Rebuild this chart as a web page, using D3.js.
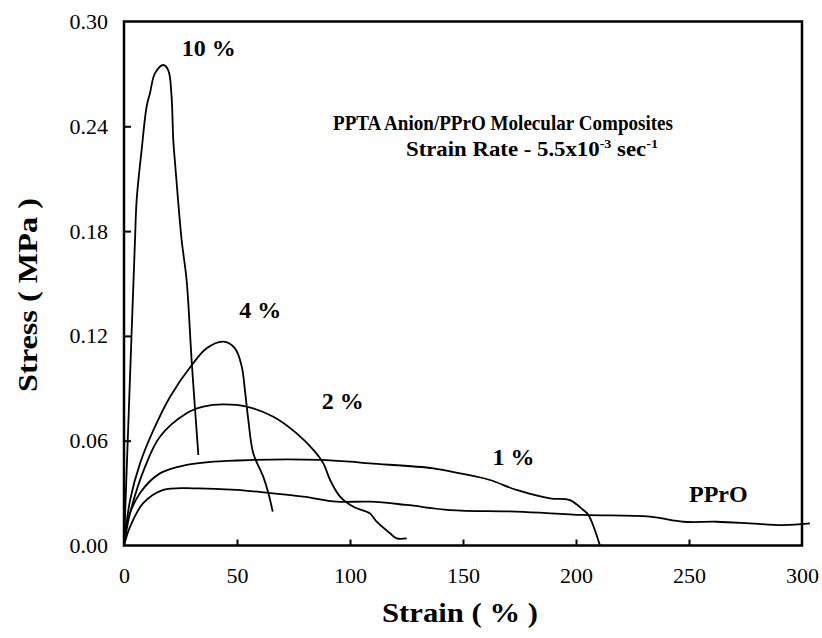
<!DOCTYPE html>
<html><head><meta charset="utf-8">
<script src="https://cdn.jsdelivr.net/npm/d3@7"></script>
<style>body{margin:0;background:#fff}svg{display:block}text{font-family:"Liberation Serif","Times New Roman",serif;fill:#000}</style>
</head><body>
<script>
const xTicks = [0, 50, 100, 150, 200, 250, 300];
const yTicks = [0.00, 0.06, 0.12, 0.18, 0.24, 0.30];

const s10x = [0, 2.4, 4.87, 5.6, 7.8, 10.0, 11.5, 13.7, 17.4, 19.6, 21.0, 21.8, 22.6, 25.5, 27.7, 30.0, 32.9];
const s10y = [0, 0.087, 0.1749, 0.1978, 0.2264, 0.2512, 0.259, 0.2703, 0.2751, 0.272, 0.258, 0.2322, 0.2188, 0.1749, 0.152, 0.1045, 0.0518];

const s4x = [0, 2.7, 7.1, 13, 20.4, 30.0, 36.6, 43.9, 49.1, 52.1, 53.5, 55, 57.2, 61.6, 63.9, 65.8];
const s4y = [0, 0.026, 0.047, 0.066, 0.0852, 0.1033, 0.1129, 0.1167, 0.1129, 0.1024, 0.089, 0.0719, 0.0528, 0.0394, 0.0299, 0.0194];

const s2x = [0, 2.7, 9.3, 15.9, 27.7, 35.1, 43.9, 54.3, 66.1, 76.4, 83.8, 88.2, 91.2, 95.6, 101.5, 108.8, 111.8, 117.7, 120.6, 125.1];
const s2y = [0, 0.0186, 0.045, 0.0623, 0.0757, 0.0795, 0.0808, 0.0795, 0.0737, 0.0642, 0.0547, 0.047, 0.0375, 0.028, 0.0222, 0.0184, 0.0136, 0.007, 0.0041, 0.0041];

const s1x = [0, 1.2, 7.1, 15.9, 27.7, 39.5, 57.2, 72, 86.7, 100, 108.8, 136.9, 148.7, 161.9, 173.7, 188.5, 197.3, 203.2, 205.5, 210.6];
const s1y = [0, 0.0129, 0.030, 0.0413, 0.0461, 0.048, 0.049, 0.0493, 0.049, 0.048, 0.047, 0.0442, 0.0413, 0.0375, 0.0318, 0.027, 0.026, 0.0203, 0.0175, 0];

const sPx = [0, 2.7, 8.5, 17.4, 32.2, 49.9, 64.6, 79.3, 94.1, 108.8, 125.1, 144.2, 173.7, 203.2, 232.7, 247.5, 262.2, 277, 291.7, 303.5];
const sPy = [0, 0.0108, 0.0242, 0.0318, 0.0327, 0.0318, 0.030, 0.028, 0.0251, 0.0251, 0.0232, 0.0203, 0.0194, 0.0175, 0.0165, 0.0136, 0.0136, 0.0127, 0.0117, 0.0127];

const seriesNames = ["10 %", "4 %", "2 %", "1 %", "PPrO"];
const labelPos = [[25.5, 0.280], [51, 0.130], [87.5, 0.078], [163, 0.046], [250, 0.025]];

const W = 822, H = 638;
const svg = d3.select("body").append("svg").attr("width", W).attr("height", H);
const x = d3.scaleLinear().domain([0, 300]).range([124, 802]);
const y = d3.scaleLinear().domain([0, 0.30]).range([545.5, 21.5]);

const series = [[s10x, s10y], [s4x, s4y], [s2x, s2y], [s1x, s1y], [sPx, sPy]];
const line = d3.line().x(d => x(d[0])).y(d => y(d[1])).curve(d3.curveCatmullRom.alpha(0.5));
series.forEach(([xs, ys]) => {
  svg.append("path").datum(xs.map((v, i) => [v, ys[i]]))
    .attr("d", line).attr("fill", "none").attr("stroke", "#000").attr("stroke-width", 1.8);
});

// frame
svg.append("rect").attr("x", x(0)).attr("y", y(0.30)).attr("width", x(300) - x(0)).attr("height", y(0) - y(0.30))
  .attr("fill", "none").attr("stroke", "#000").attr("stroke-width", 2.5);

// axes
const xAxis = d3.axisBottom(x).tickValues(xTicks).tickSizeInner(-6).tickSizeOuter(0).tickPadding(22).tickFormat(d3.format("d"));
const gx = svg.append("g").attr("transform", `translate(0,${y(0)})`).call(xAxis);
const yAxis = d3.axisLeft(y).tickValues(yTicks).tickSizeInner(-7).tickSizeOuter(0).tickPadding(16).tickFormat(d3.format(".2f"));
const gy = svg.append("g").attr("transform", `translate(${x(0)},0)`).call(yAxis);
[gx, gy].forEach(g => {
  g.select(".domain").remove();
  g.selectAll(".tick line").attr("stroke", "#000").attr("stroke-width", 2);
  g.selectAll("text").style("font-family", '"Liberation Serif",serif').style("font-size", "22px").attr("fill", "#000");
});
gx.selectAll(".tick").filter(d => d === 0 || d === 300).select("line").remove();
gy.selectAll(".tick").filter(d => d === 0 || d === 0.30).select("line").remove();

// series labels
seriesNames.forEach((n, i) => {
  svg.append("text").attr("x", x(labelPos[i][0])).attr("y", y(labelPos[i][1]))
    .attr("font-weight", "bold").attr("font-size", 24).text(n);
});

// annotation
svg.append("text").attr("x", 333).attr("y", 130).attr("font-weight", "bold").attr("font-size", 21)
  .attr("textLength", 340).attr("lengthAdjust", "spacingAndGlyphs").text("PPTA Anion/PPrO Molecular Composites");
const t2 = svg.append("text").attr("x", 406).attr("y", 156).attr("font-weight", "bold").attr("font-size", 21)
  .attr("textLength", 252).attr("lengthAdjust", "spacingAndGlyphs");
t2.append("tspan").text("Strain Rate - 5.5x10");
t2.append("tspan").attr("dy", -8).attr("font-size", 13).text("-3");
t2.append("tspan").attr("dy", 8).text(" sec");
t2.append("tspan").attr("dy", -8).attr("font-size", 13).text("-1");

// axis titles
svg.append("text").attr("x", 460).attr("y", 622).attr("text-anchor", "middle")
  .attr("font-weight", "bold").attr("font-size", 28).attr("textLength", 156).attr("lengthAdjust", "spacingAndGlyphs").text("Strain ( % )");
svg.append("text").attr("transform", "translate(37,295) rotate(-90)").attr("text-anchor", "middle")
  .attr("font-weight", "bold").attr("font-size", 28).attr("textLength", 194).attr("lengthAdjust", "spacingAndGlyphs").text("Stress ( MPa )");
</script>
</body></html>
